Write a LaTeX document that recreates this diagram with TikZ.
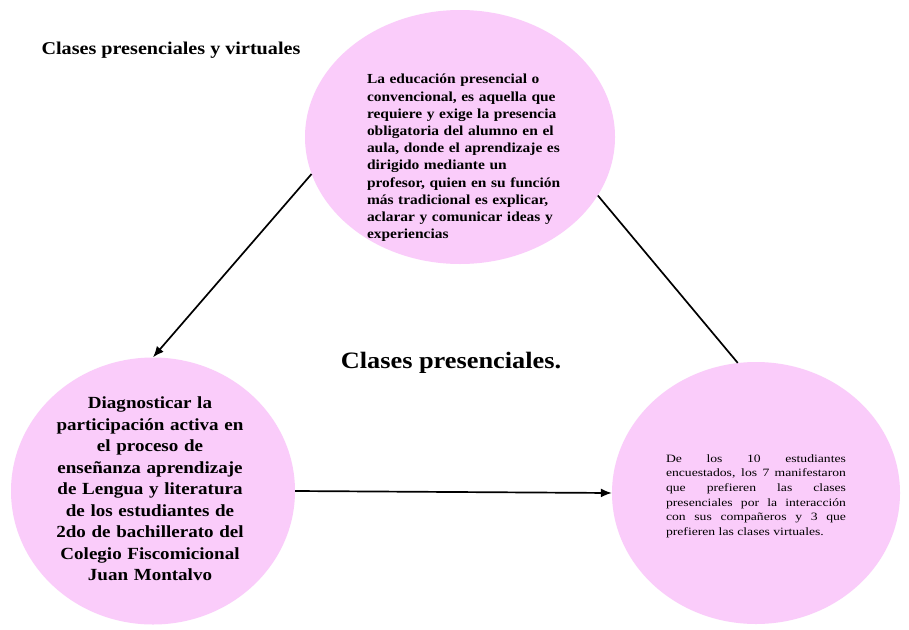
\documentclass[tikz,border=0pt]{standalone}
\usepackage{fontspec}
\setmainfont{Liberation Serif}
\newfontfamily\wideserif[FakeStretch=1.12]{Liberation Serif}
\newfontfamily\widerserif[FakeStretch=1.22]{Liberation Serif}
\usetikzlibrary{shapes.geometric,arrows.meta}
\definecolor{bubblepink}{RGB}{250,204,250}
\begin{document}
\begin{tikzpicture}[x=1pt,y=-1pt,
    bubble/.style={ellipse,fill=bubblepink,draw=none,inner sep=0pt},
    link/.style={line width=1.7pt,black},
    linkarrow/.style={link,-{Latex[length=11pt,width=9pt]}}]
    \useasboundingbox (0,0) rectangle (909,629);
    \fill[white] (0,0) rectangle (909,629);
    % titles
    \node[anchor=west,font=\wideserif\bfseries\fontsize{18}{21}\selectfont] (title) at (38,50) {Clases presenciales y virtuales};
    \node[font=\wideserif\bfseries\fontsize{23.5}{28}\selectfont] (centre) at (451,363) {Clases presenciales.};
    % the three bubbles
    \node[bubble,minimum width=310pt,minimum height=254pt] (top) at (460,137) {};
    \node[bubble,minimum width=284pt,minimum height=267pt] (left) at (153,491) {};
    \node[bubble,minimum width=288pt,minimum height=262pt] (right) at (756,493) {};
    \node[text width=200pt,align=left,font=\wideserif\bfseries\fontsize{13.8}{17.2}\selectfont] (toptext) at (467,158) {
        La educación presencial o\\
        convencional, es aquella que\\
        requiere y exige la presencia\\
        obligatoria del alumno en el\\
        aula, donde el aprendizaje es\\
        dirigido mediante un\\
        profesor, quien en su función\\
        más tradicional es explicar,\\
        aclarar y comunicar ideas y\\
        experiencias
    };
    \node[text width=230pt,align=center,font=\wideserif\bfseries\fontsize{17}{21.5}\selectfont] (lefttext) at (150,489) {
        Diagnosticar la\\
        participación activa en\\
        el proceso de\\
        enseñanza aprendizaje\\
        de Lengua y literatura\\
        de los estudiantes de\\
        2do de bachillerato del\\
        Colegio Fiscomicional\\
        Juan Montalvo
    };
    \node[text width=180pt,align=justify,font=\widerserif\fontsize{11.2}{14.6}\selectfont] (righttext) at (756,496) {
        De los 10 estudiantes\linebreak
        encuestados, los 7 manifestaron\linebreak
        que prefieren las clases\linebreak
        presenciales por la interacción\linebreak
        con sus compañeros y 3 que\linebreak
        prefieren las clases virtuales.
    };
    % connectors
    \draw[linkarrow] (top.194) -- (left.north);
    \draw[link] (top.337) -- (right.98);
    \draw[linkarrow] (left.east) -- (right.west);
\end{tikzpicture}
\end{document}
